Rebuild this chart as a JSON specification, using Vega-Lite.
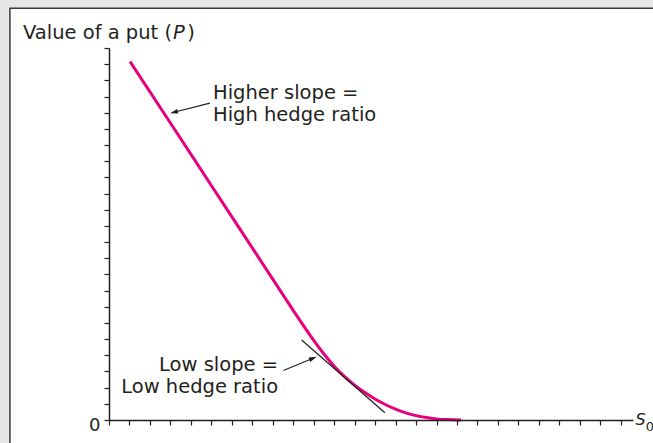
{
  "$schema": "https://vega.github.io/schema/vega-lite/v6.json",
  "autosize": {"type": "none"},
  "width": 524,
  "height": 372,
  "padding": {"left": 109, "top": 48, "right": 20, "bottom": 23},
  "background": "#e6e7e8",
  "config": {
    "view": {"stroke": null},
    "font": "DejaVu Sans",
    "text": {"font": "DejaVu Sans", "color": "#231f20"},
    "axis": {"grid": false, "domainColor": "#231f20", "domainWidth": 1.5, "tickColor": "#231f20", "tickWidth": 1.2, "tickSize": 5, "title": null},
    "axisX": {"labels": false, "tickCount": 26},
    "axisY": {"tickCount": 23, "labelFont": "DejaVu Sans", "labelFontSize": 18, "labelColor": "#231f20", "labelPadding": 4, "labelOffset": 5}
  },
  "datasets": {
    "curve": [
      {"S": 1.03, "P": 22.16}, {"S": 3, "P": 18.36}, {"S": 5, "P": 14.5}, {"S": 7, "P": 10.64},
      {"S": 8, "P": 8.71}, {"S": 9, "P": 6.78}, {"S": 9.5, "P": 5.83}, {"S": 10, "P": 4.92},
      {"S": 10.5, "P": 4.08}, {"S": 11, "P": 3.33}, {"S": 11.5, "P": 2.7}, {"S": 12, "P": 2.16},
      {"S": 12.5, "P": 1.7}, {"S": 13, "P": 1.3}, {"S": 13.5, "P": 0.96}, {"S": 14, "P": 0.67},
      {"S": 14.5, "P": 0.44}, {"S": 15, "P": 0.27}, {"S": 15.5, "P": 0.15}, {"S": 16, "P": 0.07},
      {"S": 16.5, "P": 0.025}, {"S": 17.2, "P": 0}
    ],
    "tangent": [{"S": 9.41, "P": 4.95}, {"S": 13.48, "P": 0.45}],
    "arrows": [
      {"S": 4.93, "P": 19.59, "S2": 3.17, "P2": 19.03},
      {"S": 8.52, "P": 3.06, "S2": 9.97, "P2": 3.82}
    ],
    "head1": [{"S": 3.17, "P": 19.03}],
    "head2": [{"S": 9.97, "P": 3.82}],
    "labelsLeft": [
      {"S": 5.08, "P": 19.85, "label": "Higher slope ="},
      {"S": 5.08, "P": 18.46, "label": "High hedge ratio"}
    ],
    "labelsRight": [
      {"S": 8.26, "P": 3.0, "label": "Low slope ="},
      {"S": 8.26, "P": 1.65, "label": "Low hedge ratio"}
    ],
    "titleMain": [{"S": 3.08, "P": 23.54, "label": "Value of a put ("}],
    "titleItalic": [{"S": 3.13, "P": 23.54, "label": "P"}],
    "titleClose": [{"S": 3.82, "P": 23.54, "label": ")"}],
    "xS": [{"S": 25.72, "P": -0.31, "label": "S"}],
    "xSub": [{"S": 26.22, "P": -0.68, "label": "0"}]
  },
  "layer": [
    {
      "data": {"values": [{}]},
      "mark": {"type": "rect", "fill": "white", "stroke": "#3a3a3a", "strokeWidth": 1.5, "clip": false},
      "encoding": {
        "x": {"datum": -4.84, "type": "quantitative", "scale": {"domain": [0, 25.6], "nice": false, "zero": false},
          "axis": {"tickCount": 26, "labels": false, "title": null, "zindex": 1}},
        "x2": {"datum": 27.5},
        "y": {"datum": 25.46, "type": "quantitative", "scale": {"domain": [0, 23], "nice": false, "zero": false},
          "axis": {"tickCount": 23, "labelExpr": "datum.value == 0 ? '0' : ''", "title": null, "zindex": 1}},
        "y2": {"datum": -2}
      }
    },
    {
      "data": {"name": "curve"},
      "mark": {"type": "line", "color": "#e6007e", "strokeWidth": 3, "interpolate": "monotone", "clip": false},
      "encoding": {
        "x": {"field": "S", "type": "quantitative", "scale": {"domain": [0, 25.6], "nice": false, "zero": false},
          "axis": {"tickCount": 26, "labels": false, "title": null, "zindex": 1}},
        "y": {"field": "P", "type": "quantitative", "scale": {"domain": [0, 23], "nice": false, "zero": false},
          "axis": {"tickCount": 23, "labelExpr": "datum.value == 0 ? '0' : ''", "title": null, "zindex": 1}}
      }
    },
    {
      "data": {"name": "tangent"},
      "mark": {"type": "line", "color": "#231f20", "strokeWidth": 1.2},
      "encoding": {
        "x": {"field": "S", "type": "quantitative", "scale": {"domain": [0, 25.6]}},
        "y": {"field": "P", "type": "quantitative", "scale": {"domain": [0, 23]}}
      }
    },
    {
      "data": {"name": "arrows"},
      "mark": {"type": "rule", "color": "#231f20", "strokeWidth": 1.2},
      "encoding": {
        "x": {"field": "S", "type": "quantitative", "scale": {"domain": [0, 25.6]}},
        "y": {"field": "P", "type": "quantitative", "scale": {"domain": [0, 23]}},
        "x2": {"field": "S2"},
        "y2": {"field": "P2"}
      }
    },
    {
      "data": {"name": "head1"},
      "mark": {"type": "point", "shape": "M1,0L-1,-0.6L-1,0.6Z", "filled": true, "color": "#231f20", "opacity": 1, "size": 64, "angle": 166},
      "encoding": {
        "x": {"field": "S", "type": "quantitative", "scale": {"domain": [0, 25.6]}},
        "y": {"field": "P", "type": "quantitative", "scale": {"domain": [0, 23]}}
      }
    },
    {
      "data": {"name": "head2"},
      "mark": {"type": "point", "shape": "M1,0L-1,-0.6L-1,0.6Z", "filled": true, "color": "#231f20", "opacity": 1, "size": 64, "angle": 338.3},
      "encoding": {
        "x": {"field": "S", "type": "quantitative", "scale": {"domain": [0, 25.6]}},
        "y": {"field": "P", "type": "quantitative", "scale": {"domain": [0, 23]}}
      }
    },
    {
      "data": {"name": "labelsLeft"},
      "mark": {"type": "text", "align": "left", "baseline": "alphabetic", "fontSize": 19.5},
      "encoding": {
        "x": {"field": "S", "type": "quantitative", "scale": {"domain": [0, 25.6]}},
        "y": {"field": "P", "type": "quantitative", "scale": {"domain": [0, 23]}},
        "text": {"field": "label"}
      }
    },
    {
      "data": {"name": "labelsRight"},
      "mark": {"type": "text", "align": "right", "baseline": "alphabetic", "fontSize": 19.5},
      "encoding": {
        "x": {"field": "S", "type": "quantitative", "scale": {"domain": [0, 25.6]}},
        "y": {"field": "P", "type": "quantitative", "scale": {"domain": [0, 23]}},
        "text": {"field": "label"}
      }
    },
    {
      "data": {"name": "titleMain"},
      "mark": {"type": "text", "align": "right", "baseline": "alphabetic", "fontSize": 19.5},
      "encoding": {
        "x": {"field": "S", "type": "quantitative", "scale": {"domain": [0, 25.6]}},
        "y": {"field": "P", "type": "quantitative", "scale": {"domain": [0, 23]}},
        "text": {"field": "label"}
      }
    },
    {
      "data": {"name": "titleItalic"},
      "mark": {"type": "text", "align": "left", "baseline": "alphabetic", "fontSize": 19.5, "fontStyle": "italic"},
      "encoding": {
        "x": {"field": "S", "type": "quantitative", "scale": {"domain": [0, 25.6]}},
        "y": {"field": "P", "type": "quantitative", "scale": {"domain": [0, 23]}},
        "text": {"field": "label"}
      }
    },
    {
      "data": {"name": "titleClose"},
      "mark": {"type": "text", "align": "left", "baseline": "alphabetic", "fontSize": 19.5},
      "encoding": {
        "x": {"field": "S", "type": "quantitative", "scale": {"domain": [0, 25.6]}},
        "y": {"field": "P", "type": "quantitative", "scale": {"domain": [0, 23]}},
        "text": {"field": "label"}
      }
    },
    {
      "data": {"name": "xS"},
      "mark": {"type": "text", "align": "left", "baseline": "alphabetic", "fontSize": 16, "fontStyle": "italic"},
      "encoding": {
        "x": {"field": "S", "type": "quantitative", "scale": {"domain": [0, 25.6]}},
        "y": {"field": "P", "type": "quantitative", "scale": {"domain": [0, 23]}},
        "text": {"field": "label"}
      }
    },
    {
      "data": {"name": "xSub"},
      "mark": {"type": "text", "align": "left", "baseline": "alphabetic", "fontSize": 13},
      "encoding": {
        "x": {"field": "S", "type": "quantitative", "scale": {"domain": [0, 25.6]}},
        "y": {"field": "P", "type": "quantitative", "scale": {"domain": [0, 23]}},
        "text": {"field": "label"}
      }
    }
  ]
}
